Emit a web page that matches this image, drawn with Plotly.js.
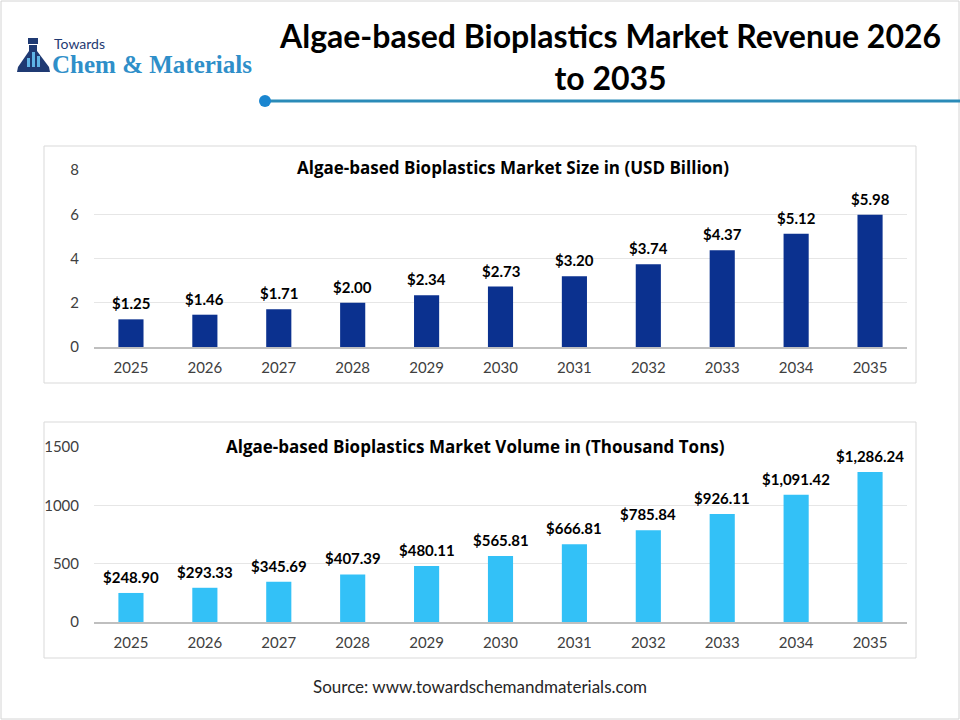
<!DOCTYPE html>
<html>
<head>
<meta charset="utf-8">
<script src="https://cdn.plot.ly/plotly-3.0.1.min.js"></script>
<style>
  html, body { margin: 0; padding: 0; background: #ffffff; }
  #chart { width: 960px; height: 720px; }
</style>
</head>
<body>
<div id="chart"></div>
<script>
// Forecast years shared by both panels
const years = ['2025', '2026', '2027', '2028', '2029', '2030', '2031', '2032', '2033', '2034', '2035'];

// Market size, USD billion
const revenueBillion = [1.25, 1.46, 1.71, 2.00, 2.34, 2.73, 3.20, 3.74, 4.37, 5.12, 5.98];

// Market volume, thousand tons
const volumeThousandTons = [248.90, 293.33, 345.69, 407.39, 480.11, 565.81, 666.81, 785.84, 926.11, 1091.42, 1286.24];

// Axis ticks
const revenueTicks = [0, 2, 4, 6, 8];
const volumeTicks = [0, 500, 1000, 1500];

const W = 960, H = 720;
const px = x => x / W;
const py = y => 1 - y / H;

function money(v) {
  return '$' + v.toLocaleString('en-US', { minimumFractionDigits: 2, maximumFractionDigits: 2 });
}

const NAVY = '#0b318f';
const SKY = '#33c1f7';
const TICK_FONT = { family: 'Lato, "Open Sans", sans-serif', size: 15, color: '#404040' };
const LABEL_FONT = { family: 'Lato, "Open Sans", sans-serif', size: 15, color: '#000000', weight: 700 };

const traces = [
  {
    type: 'bar', x: years, y: revenueBillion, xaxis: 'x', yaxis: 'y',
    marker: { color: NAVY }, hoverinfo: 'x+y'
  },
  {
    type: 'bar', x: years, y: volumeThousandTons, xaxis: 'x2', yaxis: 'y2',
    marker: { color: SKY }, hoverinfo: 'x+y'
  }
];

// Value labels sitting just above each bar (x given as category index)
function valueLabels(values, xref, yref) {
  return values.map((v, i) => ({
    text: money(v), x: i, y: v, xref: xref, yref: yref,
    xanchor: 'center', yanchor: 'bottom', yshift: 5, showarrow: false,
    font: LABEL_FONT
  }));
}

function xAxis(anchor) {
  return {
    domain: [px(94), px(907)], anchor: anchor, type: 'category',
    categoryarray: years, range: [-0.5, years.length - 0.5],
    showgrid: false, zeroline: false, showline: true,
    linecolor: '#bfbfbf', linewidth: 2, ticks: '', ticklabelstandoff: 6,
    tickfont: TICK_FONT, fixedrange: true
  };
}
function yAxis(anchor, bottom, top, range, ticks) {
  return {
    domain: [py(bottom), py(top)], anchor: anchor, range: range,
    tickvals: ticks, ticktext: ticks.map(String),
    showgrid: true, gridcolor: '#e6e6e6', gridwidth: 1,
    zeroline: false, showline: false, ticks: '', ticklabelstandoff: 14,
    tickfont: TICK_FONT, fixedrange: true
  };
}

// Flask emblem for the logo, built in pixel space
function pathFrom(points) {
  return 'M ' + points.map(p => px(p[0]) + ' ' + py(p[1])).join(' L ') + ' Z';
}
const flaskBody = pathFrom([[29, 45], [37, 45], [37, 51], [49, 67], [50, 72], [17, 72], [18, 67], [29, 51]]);
const flaskCap = pathFrom([[28, 38], [38, 38], [38, 44], [28, 44]]);
const flaskBar1 = pathFrom([[27, 58], [30, 58], [30, 67], [27, 67]]);
const flaskBar2 = pathFrom([[32, 52], [35, 52], [35, 67], [32, 67]]);
const flaskBar3 = pathFrom([[37, 56], [40, 56], [40, 67], [37, 67]]);

const shapes = [
  // outer frame
  { type: 'rect', xref: 'paper', yref: 'paper', x0: px(1), x1: px(959), y0: py(1), y1: py(719),
    line: { color: '#d4d4d4', width: 1 } },
  // panel frames
  { type: 'rect', xref: 'paper', yref: 'paper', x0: px(44), x1: px(916), y0: py(146), y1: py(383),
    line: { color: '#d9d9d9', width: 1 }, layer: 'below' },
  { type: 'rect', xref: 'paper', yref: 'paper', x0: px(44), x1: px(916), y0: py(422), y1: py(658),
    line: { color: '#d9d9d9', width: 1 }, layer: 'below' },
  // title underline with dot
  { type: 'line', xref: 'paper', yref: 'paper', x0: px(265), x1: px(960), y0: py(101), y1: py(101),
    line: { color: '#2a8bb8', width: 3 } },
  { type: 'circle', xref: 'paper', yref: 'paper', x0: px(259), x1: px(271), y0: py(95), y1: py(107),
    fillcolor: '#1a86d0', line: { width: 0 } },
  // logo flask
  { type: 'path', xref: 'paper', yref: 'paper', path: flaskBody, fillcolor: '#1f3a73', line: { width: 0 } },
  { type: 'path', xref: 'paper', yref: 'paper', path: flaskCap, fillcolor: '#1f3a73', line: { width: 0 } },
  { type: 'path', xref: 'paper', yref: 'paper', path: flaskBar1, fillcolor: '#5fb4e6', line: { width: 0 } },
  { type: 'path', xref: 'paper', yref: 'paper', path: flaskBar2, fillcolor: '#5fb4e6', line: { width: 0 } },
  { type: 'path', xref: 'paper', yref: 'paper', path: flaskBar3, fillcolor: '#5fb4e6', line: { width: 0 } }
];

const annotations = [
  { text: '<b>Algae-based Bioplastics Market Revenue 2026<br>to 2035</b>', xref: 'paper', yref: 'paper',
    x: px(610), y: py(57), xanchor: 'center', yanchor: 'middle', showarrow: false, align: 'center',
    font: { family: 'Lato, "Open Sans", sans-serif', size: 32, color: '#000000' } },
  { text: 'Towards', xref: 'paper', yref: 'paper', x: px(53), y: py(43), xanchor: 'left', yanchor: 'middle',
    showarrow: false, borderpad: 0, font: { family: 'Lato, "Open Sans", sans-serif', size: 14, color: '#1f3a73' } },
  { text: '<b>Chem &amp; Materials</b>', xref: 'paper', yref: 'paper', x: px(51), y: py(64), xanchor: 'left', yanchor: 'middle',
    showarrow: false, borderpad: 0, font: { family: '"Liberation Serif", serif', size: 25, color: '#2f8fc9' } },
  { text: '<b>Algae-based Bioplastics Market Size in (USD Billion)</b>', xref: 'paper', yref: 'paper',
    x: px(513), y: py(167), xanchor: 'center', yanchor: 'middle', showarrow: false, bgcolor: '#ffffff',
    font: { family: '"Open Sans", Lato, sans-serif', size: 17, color: '#000000' } },
  { text: '<b>Algae-based Bioplastics Market Volume in (Thousand Tons)</b>', xref: 'paper', yref: 'paper',
    x: px(475), y: py(446), xanchor: 'center', yanchor: 'middle', showarrow: false, bgcolor: '#ffffff',
    font: { family: '"Open Sans", Lato, sans-serif', size: 17, color: '#000000' } },
  { text: 'Source: www.towardschemandmaterials.com', xref: 'paper', yref: 'paper',
    x: px(480), y: py(686), xanchor: 'center', yanchor: 'middle', showarrow: false,
    font: { family: 'Lato, "Open Sans", sans-serif', size: 17, color: '#262626' } }
].concat(valueLabels(revenueBillion, 'x', 'y'), valueLabels(volumeThousandTons, 'x2', 'y2'));

const layout = {
  width: W, height: H,
  margin: { l: 0, r: 0, t: 0, b: 0 },
  paper_bgcolor: '#ffffff', plot_bgcolor: 'rgba(0,0,0,0)',
  showlegend: false, bargap: 0.66,
  xaxis: xAxis('y'),
  yaxis: yAxis('x', 347, 170, [0, 8], revenueTicks),
  xaxis2: xAxis('y2'),
  yaxis2: yAxis('x2', 622, 447, [0, 1500], volumeTicks),
  shapes: shapes,
  annotations: annotations
};

Plotly.newPlot('chart', traces, layout, { displayModeBar: false, staticPlot: true });
</script>
</body>
</html>
